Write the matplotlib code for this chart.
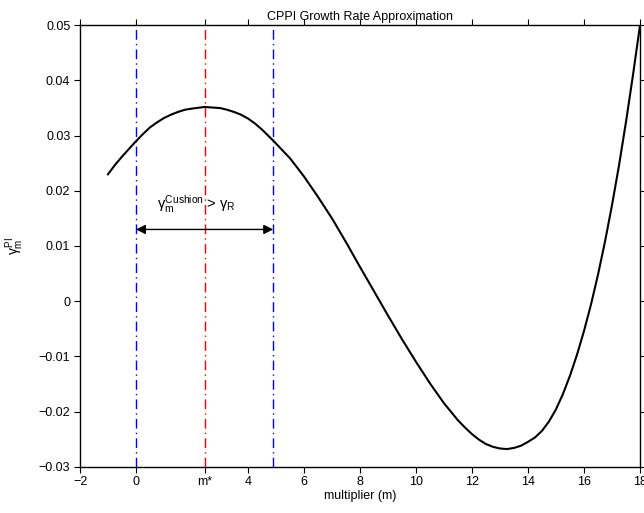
import numpy as np
import matplotlib
matplotlib.use("Agg")
import matplotlib.pyplot as plt

# growth rate curve
mult = [-1.0, -0.75, -0.5, -0.25, 0.0, 0.25, 0.5, 0.75, 1.0, 1.25, 1.5, 1.75,
        2.0, 2.45, 3.0, 3.25, 3.5, 3.75, 4.0, 4.25, 4.5, 4.9,
        5.5, 6.0, 6.5, 7.0, 7.5, 8.0, 8.5, 9.0, 9.5, 10.0, 10.5, 11.0,
        11.5, 11.75, 12.0, 12.25, 12.5, 12.75, 13.0, 13.25, 13.5,
        13.75, 14.0, 14.25, 14.5, 14.75, 15.0, 15.25, 15.5, 15.75, 16.0,
        16.25, 16.5, 16.75, 17.0, 17.25, 17.5, 17.75, 18.0]
gamma_pi = [0.0230, 0.0247, 0.0262, 0.0276, 0.0290, 0.0303, 0.0315, 0.0324,
            0.0332, 0.0338, 0.0343, 0.0347,
            0.0349, 0.0352, 0.0350, 0.0347, 0.0343, 0.0338, 0.0331, 0.0322,
            0.0311, 0.0291,
            0.0259, 0.0226, 0.0189, 0.0150, 0.0107, 0.0062, 0.0018, -0.0026,
            -0.0069, -0.0110, -0.0149, -0.0185,
            -0.0216, -0.0229, -0.0241, -0.0251, -0.0259, -0.0264, -0.0267,
            -0.0268, -0.0266,
            -0.0262, -0.0255, -0.0247, -0.0235, -0.0218, -0.0196, -0.0168,
            -0.0135, -0.0097, -0.0054,
            -0.0006, 0.0048, 0.0108, 0.0174, 0.0246, 0.0325, 0.0410, 0.0500]

m_star = 2.45
m_low = 0.0
m_high = 4.9
arrow_y = 0.013

xticks = [-2, 0, m_star, 4, 6, 8, 10, 12, 14, 16, 18]
xticklabels = ['\u22122', '0', 'm*', '4', '6', '8', '10', '12', '14', '16', '18']
yticks = [-0.03, -0.02, -0.01, 0, 0.01, 0.02, 0.03, 0.04, 0.05]
yticklabels = ['\u22120.03', '\u22120.02', '\u22120.01', '0', '0.01', '0.02', '0.03', '0.04', '0.05']

plt.rcParams['font.family'] = ['Liberation Sans', 'DejaVu Sans']
plt.rcParams['font.size'] = 9
plt.rcParams['mathtext.fontset'] = 'custom'
plt.rcParams['mathtext.rm'] = 'Liberation Sans'
plt.rcParams['mathtext.it'] = 'Liberation Sans'
plt.rcParams['mathtext.bf'] = 'Liberation Sans:bold'

fig = plt.figure(figsize=(6.44, 5.13), dpi=100)
ax = fig.add_axes([80/644, 46.3/513, 560/644, 441.4/513])

dd = (7, 3, 1, 3)
ax.axvline(m_low, color='#0000ff', lw=1.0, dashes=dd)
ax.axvline(m_star, color='#ff0000', lw=1.0, dashes=dd)
ax.axvline(m_high, color='#0000ff', lw=1.0, dashes=dd)

ax.plot(mult, gamma_pi, color='k', lw=1.5)

ax.annotate('', xy=(m_low, arrow_y), xytext=(m_high, arrow_y),
            arrowprops=dict(arrowstyle='<|-|>', color='k', lw=1.0,
                            shrinkA=0, shrinkB=0, mutation_scale=14))
ax.text(0.74, 0.0168, r'$\gamma_{m}^{Cushion}$ > $\gamma_{R}$', fontsize=10.5,
        ha='left', va='baseline')

ax.set_xlim(-2, 18)
ax.set_ylim(-0.03, 0.05)
ax.set_xticks(xticks)
ax.set_xticklabels(xticklabels)
ax.set_yticks(yticks)
ax.set_yticklabels(yticklabels)
ax.tick_params(direction='out', length=4, width=0.8, top=True, right=True,
               labelsize=9, pad=3)
for s in ax.spines.values():
    s.set_linewidth(1.0)

ax.set_xlabel('multiplier (m)', fontsize=9, labelpad=1)
ax.set_ylabel(r'$\gamma^{PI}_{m}$', fontsize=10, labelpad=9)
ax.set_title('CPPI Growth Rate Approximation', fontsize=9, pad=4)

fig.savefig('out.png', dpi=100)
